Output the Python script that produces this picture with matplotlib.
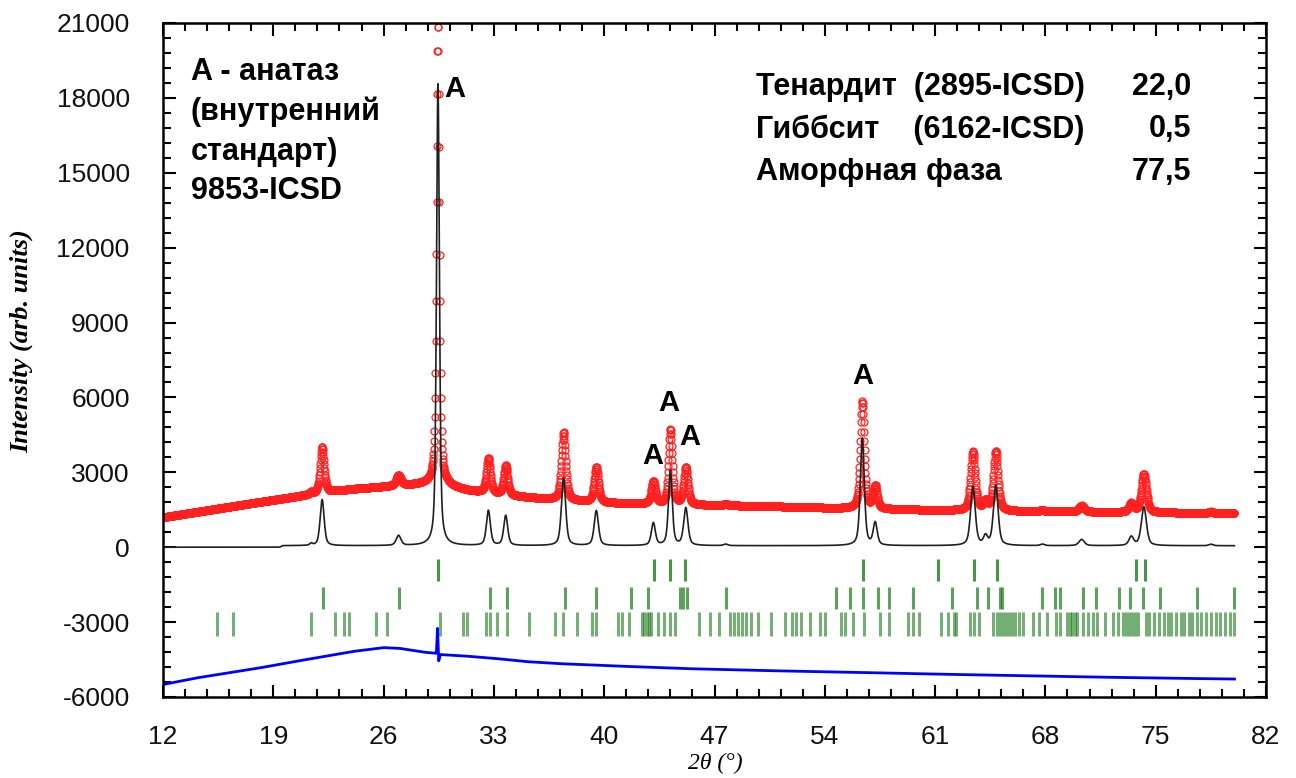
import numpy as np
import matplotlib
matplotlib.use('Agg')
import matplotlib.pyplot as plt
from matplotlib.ticker import FixedLocator

plt.rcParams['axes.unicode_minus'] = False

# scan range of the pattern
tth_start, tth_end = 12.0, 80.0

peak_pos = [21.4, 22.1, 26.95, 29.45, 32.65, 33.75, 37.42, 39.5, 43.12, 44.2, 45.18,
            47.7, 56.38, 57.2, 63.4, 64.2, 64.85, 67.8, 70.3, 73.45, 74.25, 78.5]
peak_height = [80, 1850, 400, 18500, 1400, 1200, 2700, 1400, 900, 3000, 1500,
               60, 4300, 900, 2350, 350, 2400, 60, 250, 350, 1550, 60]
peak_fwhm = [0.2, 0.3, 0.35, 0.22, 0.3, 0.3, 0.32, 0.32, 0.3, 0.28, 0.32,
             0.3, 0.3, 0.3, 0.35, 0.3, 0.35, 0.3, 0.4, 0.35, 0.38, 0.3]

# background of the observed pattern (red circles)
obs_bg_x = [12, 15, 18, 21, 24, 27, 28.5, 30, 31.5, 34, 36, 40, 45, 50, 55, 60, 65, 70, 75, 80]
obs_bg_y = [1200, 1500, 1800, 2080, 2330, 2470, 2520, 2450, 2250, 2060, 1950, 1780, 1700,
            1650, 1560, 1500, 1450, 1420, 1390, 1360]

# background of the calculated pattern (black line)
calc_bg_x = [12, 19.4, 19.6, 80]
calc_bg_y = [0, 0, 60, 60]

# difference curve (blue)
diff_x = [12, 14, 16, 18, 20, 22, 24, 26, 27, 28.5, 29.35, 29.42, 29.5, 29.6, 31, 33,
          35, 37, 40, 45, 50, 55, 60, 65, 70, 75, 80]
diff_y = [-5500, -5250, -5050, -4850, -4620, -4400, -4180, -4020, -4050, -4200, -4250,
          -3250, -4550, -4300, -4350, -4450, -4580, -4660, -4740, -4860, -4940, -5000,
          -5070, -5130, -5190, -5240, -5280]

# Bragg positions, three phases
bragg_anatase = [29.45, 43.15, 44.17, 45.12, 56.45, 61.2, 63.45, 64.9, 73.75, 74.35]
bragg_gibbsite = [22.15, 26.97, 32.75, 33.83, 37.5, 39.5, 41.7, 42.8, 44.8, 45.0, 45.25,
                  47.7, 54.7, 55.6, 56.4, 57.4, 58.1, 59.6, 62.1, 63.65, 64.35, 65.1, 65.25,
                  67.8, 68.6, 68.9, 70.4, 71.2, 72.7, 73.4, 74.2, 75.3, 77.6, 79.95]
bragg_thenardite = [15.4, 16.45, 21.4, 22.9, 23.5, 23.8, 25.5, 26.2, 29.6, 31.05, 31.3,
                    32.5, 32.75, 33.2, 33.8, 35.2, 36.9, 37.4, 38.3, 39.2, 39.5, 40.9, 41.1,
                    41.6, 42.4, 42.55, 42.7, 42.85, 43.0, 43.4, 43.8, 44.2, 44.5, 46.0, 46.7,
                    47.3, 48.0, 48.25, 48.5, 48.75, 49.0, 49.3, 49.75, 50.6, 51.5, 51.9, 52.2,
                    52.5, 53.05, 53.7, 54.0, 55.0, 55.3, 55.8, 56.5, 57.5, 58.1, 59.3, 59.6,
                    60.0, 61.4, 61.8, 62.2, 62.3, 63.2, 63.5, 63.8, 64.7, 64.9, 65.1, 65.3,
                    65.5, 65.7, 65.9, 66.1, 66.3, 66.6, 67.2, 67.6, 68.1, 68.7, 68.9, 69.4,
                    69.55, 69.7, 69.85, 70.0, 70.4, 70.7, 71.0, 71.3, 71.8, 72.3, 72.6, 72.9,
                    73.1, 73.3, 73.5, 73.7, 73.9, 74.4, 74.6, 74.9, 75.2, 75.5, 75.8, 76.0,
                    76.3, 76.6, 76.8, 77.1, 77.3, 77.6, 77.9, 78.2, 78.5, 78.8, 79.1, 79.4,
                    79.7, 79.95]

# anatase labels (bottom of the letter)
label_x = [30.5, 43.1, 44.1, 45.4, 56.4]
label_y = [17800, 3100, 5200, 3850, 6300]

phase_names = ['Тенардит  (2895-ICSD)', 'Гиббсит    (6162-ICSD)', 'Аморфная фаза']
phase_values = ['22,0', '0,5', '77,5']

x_ticks = [12, 19, 26, 33, 40, 47, 54, 61, 68, 75, 82]
y_ticks = [-6000, -3000, 0, 3000, 6000, 9000, 12000, 15000, 18000, 21000]


def profile(x):
    # pseudo-Voigt sum of the reflections listed above
    y = np.zeros_like(x)
    for p, h, w in zip(peak_pos, peak_height, peak_fwhm):
        g = np.exp(-4 * np.log(2) * ((x - p) / w) ** 2)
        l = 1.0 / (1 + 4 * ((x - p) / w) ** 2)
        y += h * (0.5 * g + 0.5 * l)
    return y


x_calc = np.arange(tth_start, tth_end + 0.005, 0.01)
y_calc = profile(x_calc) + np.interp(x_calc, calc_bg_x, calc_bg_y)
x_obs = np.arange(tth_start, tth_end + 0.01, 0.02)
y_obs = profile(x_obs) + np.interp(x_obs, obs_bg_x, obs_bg_y)
x_diff = np.arange(tth_start, tth_end + 0.01, 0.02)
y_diff = np.interp(x_diff, diff_x, diff_y)

fig = plt.figure(figsize=(12.96, 7.78), dpi=100)
ax = fig.add_axes([163 / 1296, 81 / 778, 1103 / 1296, 674 / 778])

ax.plot(x_obs, y_obs, 'o', ms=5, mfc='none', mec='#ff2020', mew=0.9)
ax.plot(x_calc, y_calc, color='#202020', lw=1.2)
ax.vlines(bragg_anatase, -480, -1360, color='#1a7a1a', lw=2.2, alpha=0.8)
ax.vlines(bragg_gibbsite, -1600, -2480, color='#1a7a1a', lw=2.2, alpha=0.7)
ax.vlines(bragg_thenardite, -2600, -3560, color='#1a7a1a', lw=2.2, alpha=0.6)
ax.plot(x_diff, y_diff, color='#0000ff', lw=2)

ax.set_xlim(12, 82)
ax.set_ylim(-6000, 21000)
ax.xaxis.set_major_locator(FixedLocator(x_ticks))
ax.xaxis.set_minor_locator(FixedLocator(np.arange(12, 82.01, 1.4)))
ax.yaxis.set_major_locator(FixedLocator(y_ticks))
ax.yaxis.set_minor_locator(FixedLocator(np.arange(-6000, 21001, 600)))
ax.tick_params(which='both', direction='in', top=True, right=True, width=1.5,
               labelsize=19, labelcolor='#111111')
ax.tick_params(which='major', length=9)
ax.tick_params(which='minor', length=6)
ax.tick_params(axis='y', pad=24)
ax.tick_params(axis='x', pad=20)
for lab in ax.get_xticklabels() + ax.get_yticklabels():
    lab.set_family('Liberation Sans')
for s in ax.spines.values():
    s.set_linewidth(1.8)

for lx, ly in zip(label_x, label_y):
    ax.text(lx, ly, 'A', fontsize=21, fontweight='bold', family='Liberation Sans',
            ha='center', va='bottom')

ax.text(0.025, 0.95, 'A - анатаз\n(внутренний\nстандарт)\n9853-ICSD', transform=ax.transAxes,
        fontsize=22, fontweight='bold', family='Liberation Sans', va='top', ha='left',
        linespacing=1.42)

for i, (name, val) in enumerate(zip(phase_names, phase_values)):
    yy = 1 - (87 - 23) / 674 - i * 42.5 / 674
    ax.text(0.538, yy, name, transform=ax.transAxes, fontsize=22, fontweight='bold',
            family='Liberation Sans', va='center', ha='left')
    ax.text(0.932, yy, val, transform=ax.transAxes, fontsize=22, fontweight='bold',
            family='Liberation Sans', va='center', ha='right')

fig.text(22 / 1296, 1 - 341 / 778, 'Intensity (arb. units)', rotation=90, fontsize=19,
         fontweight='bold', fontstyle='italic', family='Liberation Serif', ha='center', va='center')
fig.text(715 / 1296, 1 - 763 / 778, '2θ (°)', fontsize=17, fontstyle='italic',
         family='Liberation Serif', ha='center', va='center')

fig.savefig('out.png', dpi=100)
